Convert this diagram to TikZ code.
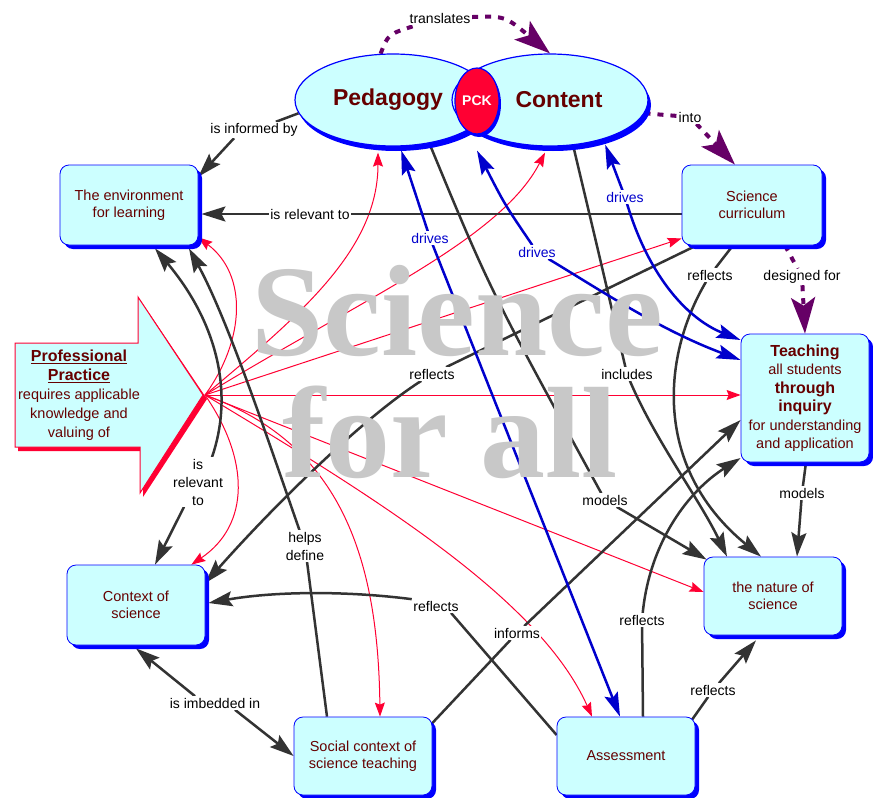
\documentclass[tikz,border=0pt]{standalone}
\usepackage{fontspec}
\setmainfont{Liberation Sans}
\newfontfamily\markfont{Liberation Serif}
\usetikzlibrary{arrows.meta,shapes.geometric,shadows}
\definecolor{boxfill}{HTML}{CCFFFF}
\definecolor{boxline}{HTML}{0000FF}
\definecolor{conceptred}{HTML}{660000}
\definecolor{linkgray}{HTML}{333333}
\definecolor{drivesblue}{HTML}{0000CC}
\definecolor{pracred}{HTML}{FF0033}
\definecolor{plumc}{HTML}{660066}
\definecolor{markgray}{HTML}{C8C8C8}
\newcommand{\boldword}[1]{{\fontsize{16}{18.5}\selectfont\bfseries #1}}
\pgfdeclarelayer{links}
\pgfdeclarelayer{mark}
\pgfsetlayers{links,mark,main}

\begin{document}
\begin{tikzpicture}[x=1pt,y=-1pt,
    concept/.style={draw=boxline,fill=boxfill,rounded corners=9pt,line width=0.8pt,
        text=conceptred,align=center,font=\fontsize{14.5}{17}\selectfont,
        minimum width=138pt,minimum height=80pt,inner sep=2pt,
        drop shadow={shadow xshift=4pt,shadow yshift=-4pt,fill=boxline,opacity=1}},
    oval/.style={ellipse,draw=boxline,fill=boxfill,line width=1.2pt,
        minimum width=196pt,minimum height=92pt,inner sep=0pt,text=conceptred,
        font=\bfseries\fontsize{23}{26}\selectfont,
        drop shadow={shadow xshift=3pt,shadow yshift=-5pt,fill=boxline,opacity=1}},
    word/.style={fill=white,inner sep=1.5pt,align=center,font=\fontsize{14}{18}\selectfont},
    driveword/.style={word,text=drivesblue},
    link/.style={draw=linkgray,line width=2.5pt},
    linkto/.style={link,-{Stealth[length=24pt,width=15pt,inset=4pt]}},
    drive/.style={draw=drivesblue,line width=2.5pt,-{Stealth[length=24pt,width=14pt,inset=4pt]}},
    prac/.style={draw=pracred,line width=1pt,-{Stealth[length=14pt,width=10pt,inset=2pt]}},
    plum/.style={draw=plumc,line width=4pt,dash pattern=on 6pt off 7pt},
    plumto/.style={plum,-{Stealth[length=36pt,width=24pt,inset=8pt]}},
    markword/.style={text=markgray,font=\markfont\bfseries\fontsize{130}{130}\selectfont,
        inner sep=0pt,anchor=base}]
    \useasboundingbox (0,0) rectangle (873,798);

    \node[oval] (ped) at (393,100) {Pedagogy\hspace*{10pt}};
    \node[oval] (con) at (550,100) {\hspace*{18pt}Content};
    \node[ellipse,draw=boxline,fill=pracred,line width=1.2pt,minimum width=44pt,
        minimum height=66pt,inner sep=0pt,text=white,font=\bfseries\fontsize{14}{14}\selectfont,
        drop shadow={shadow xshift=2pt,shadow yshift=-3pt,fill=boxline,opacity=1}] (pck) at (477,101) {PCK};

    \fill[pracred] (18,347) -- (141,347) -- (141,301) -- (207,399) -- (143,497) -- (143,451) -- (18,451) -- cycle;
    \draw[pracred,fill=boxfill,line width=1pt] (15,343) -- (138,343) -- (138,297) -- (203,395)
        -- (140,493) -- (140,447) -- (15,447) -- cycle;
    \node[text=conceptred,align=center,font=\fontsize{14.5}{19}\selectfont] (pp) at (79,395)
        {\boldword{\underline{Professional}}\\\boldword{\underline{Practice}}\\requires applicable\\knowledge and\\valuing of};
    \coordinate (pptip) at (205,395);

    \node[concept] (env) at (129,205) {The environment\\for learning};
    \node[concept,minimum width=140pt] (cur) at (752,205) {Science\\curriculum};
    \node[concept,minimum width=128pt,minimum height=128pt,font=\fontsize{14.5}{18.5}\selectfont] (teach) at (805,398)
        {\boldword{Teaching}\\all students\\\boldword{through}\\\boldword{inquiry}\\for understanding\\and application};
    \node[concept] (ctx) at (136,605) {Context of\\science};
    \node[concept,minimum height=78pt] (nat) at (773,596) {the nature of\\science};
    \node[concept,minimum height=78pt] (soc) at (363,756) {Social context of\\science teaching};
    \node[concept,minimum height=78pt] (ass) at (626,756) {Assessment};

    \node[word] (trans) at (440,18) {translates};
    \node[word] (into) at (690,117) {into};
    \node[word] (design) at (802,277) {designed for};
    \node[word] (informed) at (254,130) {is informed by};
    \node[word] (relenv) at (310,214) {is relevant to};
    \node[driveword] (drvA) at (430,238) {drives};
    \node[driveword] (drvB) at (537,252) {drives};
    \node[driveword] (drvC) at (625,197) {drives};
    \node[word] (reflctx) at (432,374) {reflects};
    \node[word] (reflnat) at (710,275) {reflects};
    \node[word] (incl) at (627,374) {includes};
    \node[word] (modped) at (605,500) {models};
    \node[word] (modteach) at (802,493) {models};
    \node[word] (relctx) at (198,482) {is\\relevant\\to};
    \node[word] (helps) at (305,546) {helps\\define};
    \node[word] (reflass) at (436,606) {reflects};
    \node[word] (informs) at (517,633) {informs};
    \node[word] (reflteach) at (642,620) {reflects};
    \node[word] (reflnat2) at (713,690) {reflects};
    \node[word] (imbed) at (215,703) {is imbedded in};

    \begin{pgfonlayer}{mark}
    \node[markword] (wmA) at (457,355) {Science};
    \node[markword] (wmB) at (450,477) {for all};
    \end{pgfonlayer}

    \begin{pgfonlayer}{links}
    \fill[white] (0,0) rectangle (873,798);

    \draw[plum] (ped.105) .. controls (388,34) .. (trans);
    \draw[plumto] (trans) .. controls (505,16) .. (con.north);
    \draw[plum] (con.-8) -- (into);
    \draw[plumto] (into) -- ([xshift=-17pt]cur.north);
    \draw[plum] ([xshift=33pt]cur.south) -- (design);
    \draw[plumto] (design) -- (teach.north);

    \draw[prac] (pptip) .. controls (300,315) and (378,250) .. ([xshift=-15pt,yshift=-6pt]ped.south);
    \draw[prac] (pptip) .. controls (360,300) and (500,240) .. ([xshift=-5pt,yshift=-6pt]con.south);
    \draw[prac] (pptip) .. controls (245,340) and (248,275) .. ([yshift=8pt]env.south east);
    \draw[prac] (pptip) -- ([yshift=7pt]cur.south west);
    \draw[prac] (pptip) -- (teach.west |- pptip);
    \draw[prac] (pptip) -- ([yshift=4pt]nat.west);
    \draw[prac] (pptip) .. controls (380,500) and (540,600) .. ([xshift=-34pt]ass.north);
    \draw[prac] (pptip) .. controls (330,440) and (378,540) .. ([xshift=17pt]soc.north);
    \draw[prac] (pptip) .. controls (250,460) and (250,525) .. ([xshift=-14pt]ctx.north east);

    \draw[link] (ped.188) -- (informed);
    \draw[linkto] ([xshift=-20pt]informed.south) -- ([yshift=-12pt]env.north east);
    \draw[link] (cur.west |- relenv) -- (relenv);
    \draw[linkto] (relenv) -- ([xshift=3pt]env.east |- relenv);
    \draw[link] ([xshift=15pt]cur.south west) -- (reflctx);
    \draw[linkto] (reflctx) .. controls (360,420) and (270,510) .. ([yshift=22pt]ctx.east);
    \draw[link] ([xshift=-19pt]cur.south) -- (reflnat);
    \draw[linkto] (reflnat) .. controls (660,360) and (655,470) .. ([xshift=-12pt]nat.north);
    \draw[link] (con.-63) .. controls (598,250) .. (incl);
    \draw[linkto] (incl) .. controls (655,440) and (700,500) .. ([xshift=-46pt]nat.north);
    \draw[link] (ped.-50) .. controls (490,290) .. (modped);
    \draw[linkto] (modped) -- ([xshift=3pt,yshift=-3pt]nat.north west);
    \draw[link] ([xshift=1pt]teach.south) -- (modteach);
    \draw[linkto] (modteach) -- ([xshift=24pt]nat.north);
    \draw[link] ([xshift=-36pt]soc.north) -- (helps);
    \draw[linkto] (helps) .. controls (268,440) and (228,320) .. ([xshift=60pt,yshift=-3pt]env.south);
    \draw[linkto] ([xshift=14pt]relctx.north) .. controls (235,390) and (215,320) .. ([xshift=26pt,yshift=-3pt]env.south);
    \draw[linkto] ([xshift=-14pt]relctx.south) -- ([xshift=19pt]ctx.north);
    \draw[linkto] ([xshift=-20pt]imbed.north) -- ([yshift=-3pt]ctx.south);
    \draw[linkto] ([xshift=20pt]imbed.south) -- (soc.west);
    \draw[link] ([yshift=21pt]ass.west) -- ([xshift=15pt]reflass.south);
    \draw[linkto] (reflass.north west) .. controls (340,590) and (270,592) .. ([xshift=3pt,yshift=2pt]ctx.east);
    \draw[link] ([yshift=33pt]soc.east) -- (informs);
    \draw[linkto] (informs) -- ([yshift=-22pt]teach.west);
    \draw[link] ([xshift=17pt]ass.north) -- (reflteach);
    \draw[linkto] (reflteach) .. controls (650,540) and (690,490) .. ([yshift=-60pt]teach.west);
    \draw[link] ([xshift=-4pt,yshift=-4pt]ass.north east) -- (reflnat2);
    \draw[linkto] (reflnat2) -- ([xshift=-17pt,yshift=-5pt]nat.south);

    \draw[drive] (drvA) -- ([yshift=-4pt]ped.-80);
    \draw[drive] (drvA) -- ([xshift=-6pt]ass.north);
    \draw[drive] (drvB) .. controls (505,205) .. ([yshift=-16pt]pck.south);
    \draw[drive] (drvB) .. controls (600,290) and (660,330) .. ([yshift=38pt]teach.west);
    \draw[drive] (drvC) -- ([yshift=-6pt]con.-35);
    \draw[drive] (drvC) .. controls (650,280) and (690,320) .. ([yshift=58pt]teach.west);
    \end{pgfonlayer}
\end{tikzpicture}
\end{document}
